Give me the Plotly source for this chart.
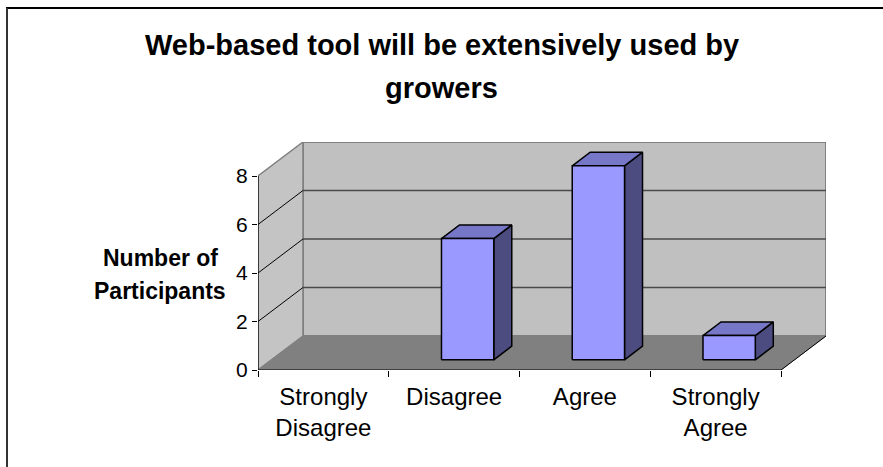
import plotly.graph_objects as go

# ---- data -------------------------------------------------------------
categories = ["Strongly<br>Disagree", "Disagree", "Agree", "Strongly<br>Agree"]
participants = [0, 5, 8, 1]
y_ticks = [0, 2, 4, 6, 8]
title_lines = ["Web-based tool will be extensively used by", "growers"]
y_title_lines = ["Number of", "Participants"]

# ---- 3-D look parameters (in axis units) ------------------------------
Y_MAX = 8
DEPTH_X = 0.344   # how far the back wall is shifted along the category axis
DEPTH_Y = 1.402   # how far the back wall is raised along the value axis
BAR_W = 0.4       # bar width as fraction of a category slot
BAR_FRONT = 0.3   # depth fraction of the bar front face
BAR_BACK = 0.7    # depth fraction of the bar back face

FONT = "Liberation Sans, Arial, sans-serif"
W, H = 883, 467
L, R, T, B = 258, 57, 142, 97

n = len(categories)


def proj(x, y, d):
    """Shift a point (x, y) back by depth fraction d."""
    return x + d * DEPTH_X, y + d * DEPTH_Y


def poly(points, fill, line_color, line_width, name=""):
    xs = [p[0] for p in points] + [points[0][0]]
    ys = [p[1] for p in points] + [points[0][1]]
    return go.Scatter(x=xs, y=ys, mode="lines", fill="toself", fillcolor=fill,
                      line=dict(color=line_color, width=line_width),
                      hoverinfo="skip", showlegend=False, name=name)


def seg(p0, p1, color, width):
    return go.Scatter(x=[p0[0], p1[0]], y=[p0[1], p1[1]], mode="lines",
                      line=dict(color=color, width=width),
                      hoverinfo="skip", showlegend=False)


fig = go.Figure()

# walls and floor
fig.add_trace(poly([proj(0, 0, 1), proj(n, 0, 1), proj(n, Y_MAX, 1), proj(0, Y_MAX, 1)],
                   "#C0C0C0", "#808080", 2, "back wall"))
fig.add_trace(poly([(0, 0), proj(0, 0, 1), proj(0, Y_MAX, 1), (0, Y_MAX)],
                   "#C4C4C4", "#808080", 1.5, "side wall"))
fig.add_trace(poly([(0, 0), (n, 0), proj(n, 0, 1), proj(0, 0, 1)],
                   "#808080", "#808080", 1, "floor"))

# gridlines on the back wall and the side wall
for v in y_ticks[1:-1]:
    fig.add_trace(seg(proj(0, v, 1), proj(n, v, 1), "#4A4A4A", 1.5))
    fig.add_trace(seg((0, v), proj(0, v, 1), "#000000", 1))

# floor right edge
fig.add_trace(seg((n, 0), proj(n, 0, 1), "#000000", 1))

# bars
for i, v in enumerate(participants):
    if v <= 0:
        continue
    x0 = i + 0.5 - BAR_W / 2
    x1 = x0 + BAR_W
    f_bl = proj(x0, 0, BAR_FRONT)
    f_br = proj(x1, 0, BAR_FRONT)
    f_tr = proj(x1, v, BAR_FRONT)
    f_tl = proj(x0, v, BAR_FRONT)
    b_br = proj(x1, 0, BAR_BACK)
    b_tr = proj(x1, v, BAR_BACK)
    b_tl = proj(x0, v, BAR_BACK)
    fig.add_trace(poly([f_br, b_br, b_tr, f_tr], "#4C4C80", "#000000", 1.5))
    fig.add_trace(poly([f_tl, f_tr, b_tr, b_tl], "#7777C8", "#000000", 1.5))
    fig.add_trace(poly([f_bl, f_br, f_tr, f_tl], "#9999FF", "#000000", 1.5))

# front axis lines
fig.add_trace(seg((0, 0), (0, Y_MAX), "#000000", 1.2))
fig.add_trace(seg((0, 0), (n, 0), "#000000", 1.2))

# helper trace so the tick-mark axis is drawn
fig.add_trace(go.Scatter(x=[0], y=[0], xaxis="x2", mode="markers",
                         marker=dict(opacity=0), hoverinfo="skip", showlegend=False))

x_range = [0, n + DEPTH_X]
y_range = [0, Y_MAX + DEPTH_Y]

fig.update_layout(
    width=W, height=H,
    margin=dict(l=L, r=R, t=T, b=B, autoexpand=False),
    paper_bgcolor="white", plot_bgcolor="rgba(0,0,0,0)",
    font=dict(family=FONT, color="black"),
    xaxis=dict(range=x_range, tickvals=[i + 0.5 for i in range(n)], ticktext=categories,
               ticks="", showgrid=False, zeroline=False, showline=False,
               ticklabelstandoff=10,
               tickfont=dict(size=24, family=FONT, color="black"), fixedrange=True),
    xaxis2=dict(range=x_range, overlaying="x", anchor="y", side="bottom",
                tickvals=list(range(n + 1)), ticks="outside", ticklen=6,
                tickcolor="black", tickwidth=1, showticklabels=False,
                showgrid=False, zeroline=False, showline=False, fixedrange=True),
    yaxis=dict(range=y_range, tickvals=y_ticks, ticks="outside", ticklen=5,
               tickcolor="black", tickwidth=1, showgrid=False, zeroline=False,
               showline=False, tickfont=dict(size=21, family=FONT, color="black"),
               fixedrange=True),
)


def px_x(px):
    return (px - L) / (W - L - R)


def px_y(py):
    return (H - B - py) / (H - T - B)


annotations = [
    dict(text=title_lines[0], x=px_x(441.5), y=px_y(45)),
    dict(text=title_lines[1], x=px_x(441.5), y=px_y(88)),
]
for a in annotations:
    a.update(font=dict(size=29, family=FONT, color="black"), xref="paper", yref="paper",
             xanchor="center", yanchor="middle", showarrow=False)
    a["text"] = "<b>" + a["text"] + "</b>"

for txt, yy in zip(y_title_lines, [258, 291]):
    annotations.append(dict(text="<b>" + txt + "</b>", x=px_x(160), y=px_y(yy),
                            xref="paper", yref="paper", xanchor="center",
                            yanchor="middle", showarrow=False,
                            font=dict(size=23, family=FONT, color="black")))
fig.update_layout(annotations=annotations)

# chart frame lines
fig.update_layout(shapes=[
    dict(type="line", xref="paper", yref="paper", x0=px_x(6), x1=px_x(W + 2),
         y0=px_y(8), y1=px_y(8), line=dict(color="black", width=2)),
    dict(type="line", xref="paper", yref="paper", x0=px_x(7), x1=px_x(7),
         y0=px_y(8), y1=px_y(H + 2), line=dict(color="#333333", width=2)),
])

fig.write_html("out.html")
